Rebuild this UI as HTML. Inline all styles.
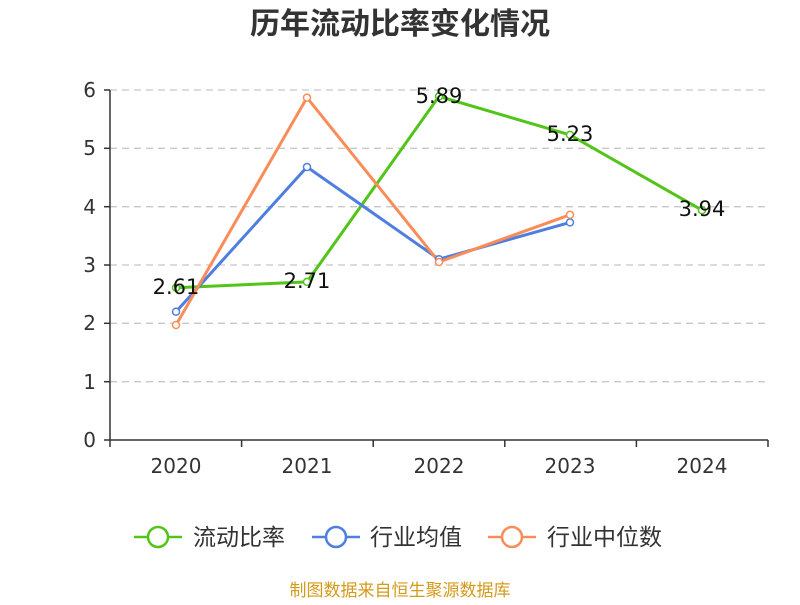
<!DOCTYPE html>
<html><head><meta charset="utf-8"><style>
body{margin:0;background:#fff;}
svg text{font-family:"DejaVu Sans","Noto Sans CJK SC",sans-serif;}
</style></head><body>
<svg width="800" height="600" viewBox="0 0 800 600">
<text x="400" y="34" text-anchor="middle" font-size="30" font-weight="bold" fill="#333" style="font-family:'Noto Sans CJK SC',sans-serif">历年流动比率变化情况</text>
<g stroke="#c8c8c8" stroke-dasharray="7,5" stroke-width="1.3">
<line x1="110" x2="768" y1="90" y2="90"/><line x1="110" x2="768" y1="148.3" y2="148.3"/>
<line x1="110" x2="768" y1="206.7" y2="206.7"/><line x1="110" x2="768" y1="265" y2="265"/>
<line x1="110" x2="768" y1="323.3" y2="323.3"/><line x1="110" x2="768" y1="381.7" y2="381.7"/>
</g>
<g stroke="#333" stroke-width="1.5">
<line x1="110" x2="110" y1="90" y2="440"/><line x1="110" x2="768" y1="440" y2="440"/>
<line x1="104" x2="110" y1="90" y2="90"/><line x1="104" x2="110" y1="148.3" y2="148.3"/><line x1="104" x2="110" y1="206.7" y2="206.7"/><line x1="104" x2="110" y1="265" y2="265"/><line x1="104" x2="110" y1="323.3" y2="323.3"/><line x1="104" x2="110" y1="381.7" y2="381.7"/><line x1="104" x2="110" y1="440" y2="440"/>
<line x1="110" x2="110" y1="440" y2="447"/><line x1="241.6" x2="241.6" y1="440" y2="447"/><line x1="373.2" x2="373.2" y1="440" y2="447"/><line x1="504.8" x2="504.8" y1="440" y2="447"/><line x1="636.4" x2="636.4" y1="440" y2="447"/><line x1="768" x2="768" y1="440" y2="447"/>
</g>
<g font-size="20" fill="#333" text-anchor="end">
<text x="96" y="97">6</text><text x="96" y="155">5</text><text x="96" y="214">4</text><text x="96" y="272">3</text><text x="96" y="330">2</text><text x="96" y="389">1</text><text x="96" y="447">0</text>
</g>
<g font-size="20" fill="#333" text-anchor="middle">
<text x="176" y="473">2020</text><text x="307" y="473">2021</text><text x="439" y="473">2022</text><text x="570" y="473">2023</text><text x="702" y="473">2024</text>
</g>
<polyline fill="none" stroke="#52c41a" stroke-width="3" points="176,287.8 307,281.9 439,96.4 570,134.9 702,210.2"/>
<polyline fill="none" stroke="#4e7fe0" stroke-width="3" points="176,311.7 307,167 439,259.2 570,222.4"/>
<polyline fill="none" stroke="#fa8c5a" stroke-width="3" points="176,325 307,97.6 439,262 570,214.8"/>
<g fill="#fff" stroke-width="1.5">
<g stroke="#52c41a"><circle cx="176" cy="287.8" r="3.5"/><circle cx="307" cy="281.9" r="3.5"/><circle cx="439" cy="96.4" r="3.5"/><circle cx="570" cy="134.9" r="3.5"/><circle cx="702" cy="210.2" r="3.5"/></g>
<g stroke="#4e7fe0"><circle cx="176" cy="311.7" r="3.5"/><circle cx="307" cy="167" r="3.5"/><circle cx="439" cy="259.2" r="3.5"/><circle cx="570" cy="222.4" r="3.5"/></g>
<g stroke="#fa8c5a"><circle cx="176" cy="325" r="3.5"/><circle cx="307" cy="97.6" r="3.5"/><circle cx="439" cy="262" r="3.5"/><circle cx="570" cy="214.8" r="3.5"/></g>
</g>
<g font-size="21" fill="#111" text-anchor="middle">
<text x="176" y="294">2.61</text><text x="307" y="288">2.71</text><text x="439" y="103">5.89</text><text x="570" y="141">5.23</text><text x="702" y="216">3.94</text>
</g>
<g stroke-width="2.5" fill="#fff">
<line x1="134" x2="182" y1="537" y2="537" stroke="#52c41a"/><circle cx="158" cy="537" r="10" stroke="#52c41a"/>
<line x1="312" x2="360" y1="537" y2="537" stroke="#4e7fe0"/><circle cx="336" cy="537" r="10" stroke="#4e7fe0"/>
<line x1="488" x2="536" y1="537" y2="537" stroke="#fa8c5a"/><circle cx="512" cy="537" r="10" stroke="#fa8c5a"/>
</g>
<g font-size="23" fill="#333">
<text x="193" y="545">流动比率</text><text x="370" y="545">行业均值</text><text x="547" y="545">行业中位数</text>
</g>
<text x="400" y="596" text-anchor="middle" font-size="17" fill="#d49a1a">制图数据来自恒生聚源数据库</text>
</svg>
</body></html>
